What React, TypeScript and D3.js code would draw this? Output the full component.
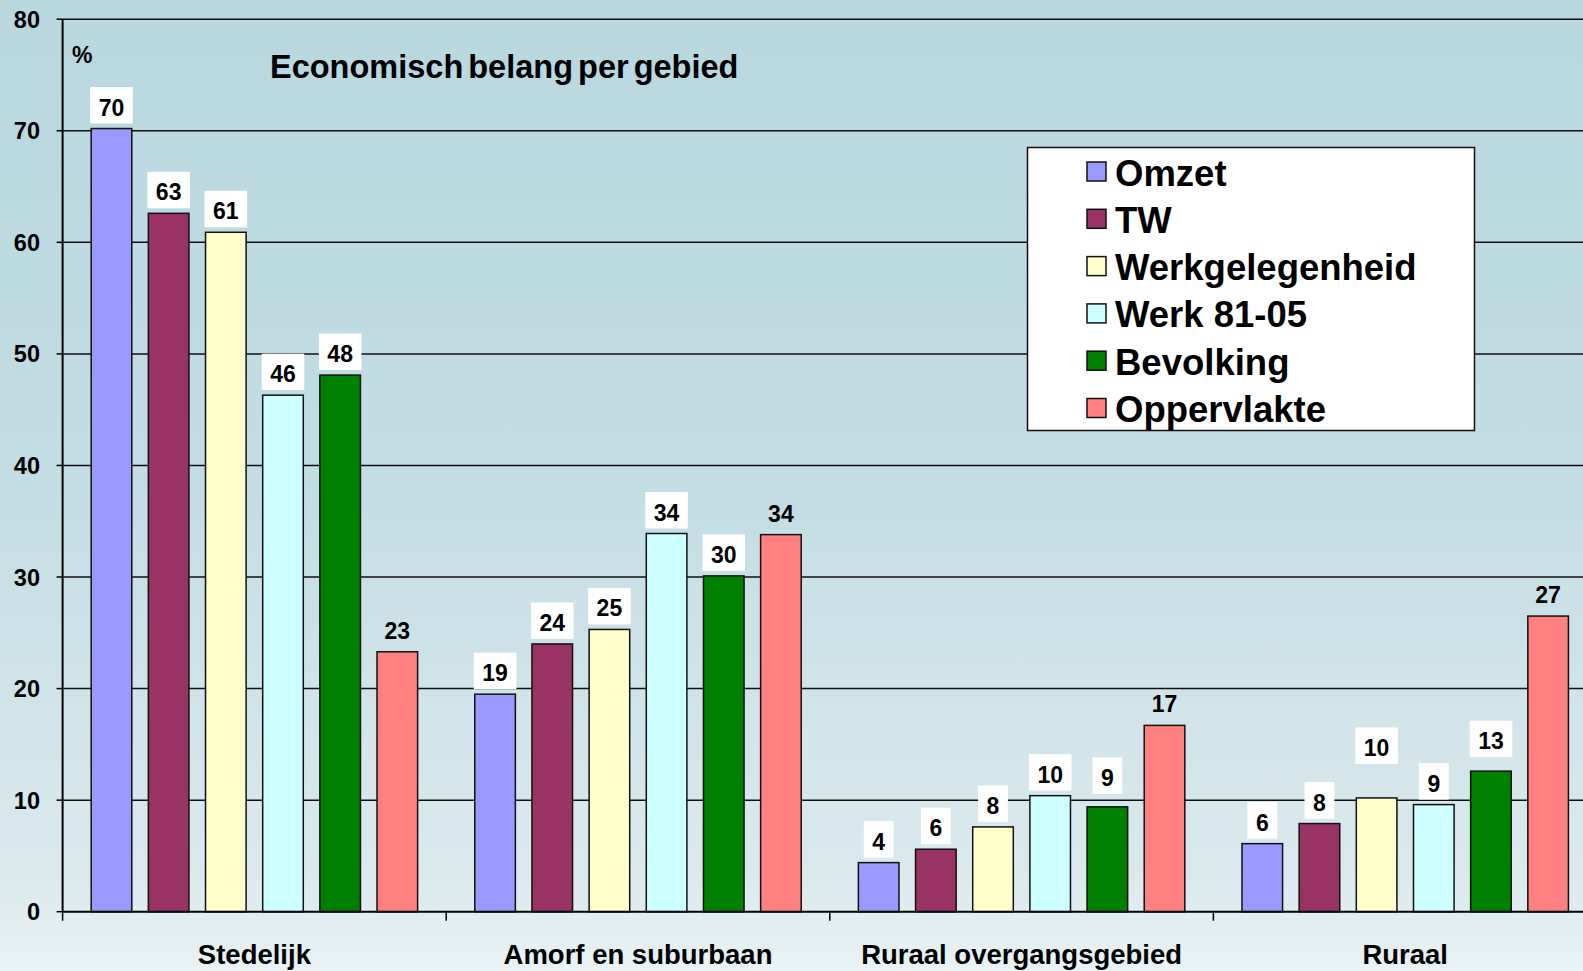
import React from "react";
import * as d3 from "d3";

const categories = ["Stedelijk", "Amorf en suburbaan", "Ruraal overgangsgebied", "Ruraal"];
const seriesNames = ["Omzet", "TW", "Werkgelegenheid", "Werk 81-05", "Bevolking", "Oppervlakte"];
const seriesColors = ["#9999FF", "#993366", "#FFFFCC", "#CCFFFF", "#008000", "#FF8080"];

// bar heights per series (one per category)
const omzet = [70.2, 19.5, 4.4, 6.1];
const tw = [62.6, 24.0, 5.6, 7.9];
const werkgelegenheid = [60.9, 25.3, 7.6, 10.2];
const werk8105 = [46.3, 33.9, 10.4, 9.6];
const bevolking = [48.1, 30.1, 9.4, 12.6];
const oppervlakte = [23.3, 33.8, 16.7, 26.5];

// printed labels as they appear above each bar
const omzetLabels = ["70", "19", "4", "6"];
const twLabels = ["63", "24", "6", "8"];
const werkgelegenheidLabels = ["61", "25", "8", "10"];
const werk8105Labels = ["46", "34", "10", "9"];
const bevolkingLabels = ["48", "30", "9", "13"];
const oppervlakteLabels = ["23", "34", "17", "27"];

const yTicks = [0, 10, 20, 30, 40, 50, 60, 70, 80];

const seriesValues = [omzet, tw, werkgelegenheid, werk8105, bevolking, oppervlakte];
const seriesLabels = [omzetLabels, twLabels, werkgelegenheidLabels, werk8105Labels, bevolkingLabels, oppervlakteLabels];

// hand-moved labels in the original slide
const labelLift: Record<string, number> = {
  "Ruraal|Werkgelegenheid": 29,
  "Ruraal|Bevolking": 9,
  "Ruraal overgangsgebied|Bevolking": 8,
};

const W = 1583;
const H = 971;
const font = "'Liberation Sans', Arial, sans-serif";

export default function App() {
  const left = 62.6;
  const groupW = 383.6;
  const x = d3.scaleBand<string>().domain(categories).range([left, left + groupW * 4]).padding(0);
  const xs = d3.scaleBand<string>().domain(seriesNames).range([0, groupW]).paddingInner(0.29).paddingOuter(0.5);
  const y = d3.scaleLinear().domain([0, 80]).range([911.7, 19.2]);

  const bars: any[] = [];
  categories.forEach((c, ci) => {
    seriesNames.forEach((s, si) => {
      bars.push({ c, s, si, v: seriesValues[si][ci], label: seriesLabels[si][ci] });
    });
  });

  return (
    <svg width={W} height={H} style={{ position: "absolute", left: 0, top: 0 }} fontFamily={font}>
      <defs>
        <linearGradient id="bg" x1="0" y1="0" x2="0" y2="1">
          <stop offset="0" stopColor="#b8d7df" />
          <stop offset="0.5" stopColor="#c3dde4" />
          <stop offset="0.9" stopColor="#dbe9ed" />
          <stop offset="1" stopColor="#e9f2f4" />
        </linearGradient>
      </defs>
      <rect x={0} y={0} width={W} height={H} fill="url(#bg)" />

      {/* gridlines */}
      {yTicks.filter((t) => t > 0).map((t) => (
        <line key={t} x1={left} x2={W} y1={y(t)} y2={y(t)} stroke="#111" strokeWidth={1.5} />
      ))}

      {/* bars */}
      {bars.map((b) => (
        <rect
          key={b.c + b.s}
          x={(x(b.c) ?? 0) + (xs(b.s) ?? 0)}
          y={y(b.v)}
          width={xs.bandwidth()}
          height={y(0) - y(b.v)}
          fill={seriesColors[b.si]}
          stroke="#111"
          strokeWidth={1.5}
        />
      ))}

      {/* value labels */}
      {bars.map((b) => {
        const cx = (x(b.c) ?? 0) + (xs(b.s) ?? 0) + xs.bandwidth() / 2;
        const base = y(b.v) - 13 - (labelLift[b.c + "|" + b.s] ?? 0);
        const tw = b.label.length * 12.8;
        const boxed = b.s !== "Oppervlakte";
        return (
          <g key={"l" + b.c + b.s}>
            {boxed && <rect x={cx - tw / 2 - 8.5} y={base - 28.5} width={tw + 17} height={36.5} fill="#fff" />}
            <text x={cx} y={base} textAnchor="middle" fontSize={23} fontWeight="bold" fill="#000">
              {b.label}
            </text>
          </g>
        );
      })}

      {/* axes */}
      <line x1={left} x2={left} y1={y(80)} y2={y(0)} stroke="#000" strokeWidth={2} />
      <line x1={left} x2={W} y1={y(0)} y2={y(0)} stroke="#000" strokeWidth={2} />
      {yTicks.map((t) => (
        <g key={"t" + t}>
          <line x1={left - 6} x2={left} y1={y(t)} y2={y(t)} stroke="#000" strokeWidth={1.5} />
          <text x={40} y={y(t) + 8.5} textAnchor="end" fontSize={23.5} fontWeight="bold" fill="#000">
            {t}
          </text>
        </g>
      ))}
      {categories.map((c) => (
        <line key={"ct" + c} x1={x(c)} x2={x(c)} y1={y(0)} y2={y(0) + 9} stroke="#000" strokeWidth={1.5} />
      ))}
      {categories.map((c) => (
        <text key={"cl" + c} x={(x(c) ?? 0) + groupW / 2} y={964} textAnchor="middle" fontSize={27.5} fontWeight="bold" fill="#000">
          {c}
        </text>
      ))}

      <text x={72} y={63} fontSize={23} fontWeight="bold" fill="#000">%</text>
      <text x={270} y={78} fontSize={32.5} fontWeight="bold" fill="#000" wordSpacing={-4}>
        Economisch belang per gebied
      </text>

      {/* legend */}
      <g>
        <rect x={1027.5} y={147.5} width={447} height={283} fill="#fff" stroke="#111" strokeWidth={1.5} />
        {seriesNames.map((s, i) => {
          const ty = 162 + i * 47.3;
          return (
            <g key={"lg" + s}>
              <rect x={1087} y={ty} width={19} height={19} fill={seriesColors[i]} stroke="#111" strokeWidth={1.5} />
              <text x={1115} y={ty + 23.5} fontSize={36.5} fontWeight="bold" fill="#000">
                {s}
              </text>
            </g>
          );
        })}
      </g>
    </svg>
  );
}
